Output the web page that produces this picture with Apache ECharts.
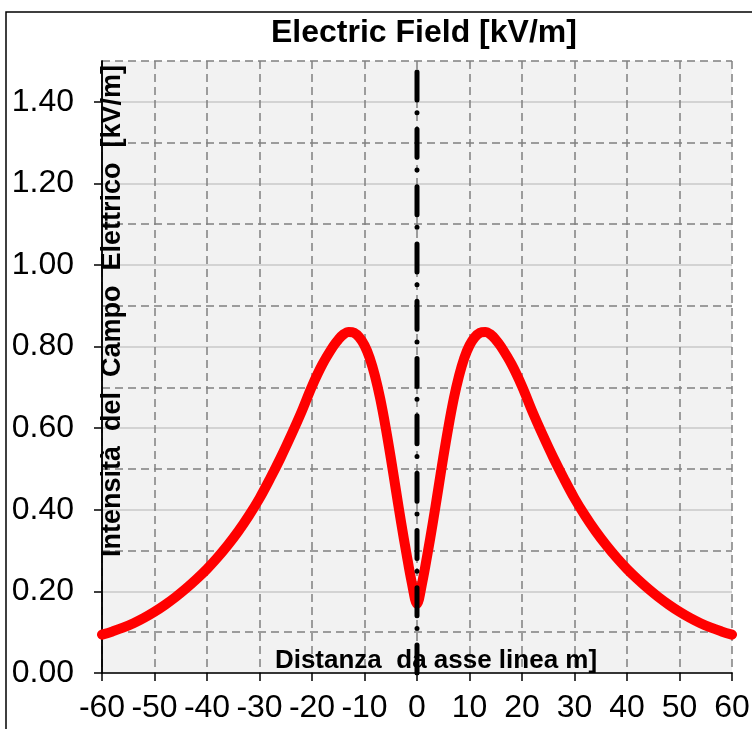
<!DOCTYPE html>
<html>
<head>
<meta charset="utf-8">
<script src="https://cdn.jsdelivr.net/npm/echarts@6/dist/echarts.min.js"></script>
<style>
html,body{margin:0;padding:0;background:#fff;}
#c{width:752px;height:729px;}
</style>
</head>
<body>
<div id="c"></div>
<script>
// ---- data ----
const distances = [-60,-58,-56,-54,-52,-50,-48,-46,-44,-42,-40,-38,-36,-34,-32,-30,-28,-26,-24,-22,-20,-18,-16,-15,-14,-13,-12,-11,-10,-9,-8,-7,-6,-5,-4,-3,-2,-1,0,1,2,3,4,5,6,7,8,9,10,11,12,13,14,15,16,18,20,22,24,26,28,30,32,34,36,38,40,42,44,46,48,50,52,54,56,58,60];
const fieldValues = [0.094,0.102,0.111,0.122,0.135,0.150,0.167,0.186,0.207,0.230,0.255,0.283,0.314,0.348,0.386,0.428,0.476,0.527,0.582,0.640,0.703,0.757,0.800,0.817,0.830,0.836,0.834,0.823,0.803,0.772,0.728,0.672,0.604,0.528,0.447,0.367,0.292,0.222,0.170,0.222,0.292,0.367,0.447,0.528,0.604,0.672,0.728,0.772,0.803,0.823,0.834,0.836,0.830,0.817,0.800,0.757,0.703,0.640,0.582,0.527,0.476,0.428,0.386,0.348,0.314,0.283,0.255,0.230,0.207,0.186,0.167,0.150,0.135,0.122,0.111,0.102,0.094];
const axisLinePoints = [[0,1.5],[0,0]];
const yLabelValues = [0,0.2,0.4,0.6,0.8,1.0,1.2,1.4];
const titleText = 'Electric Field [kV/m]';
const yName = 'Intensità  del  Campo  Elettrico  [kV/m]';
const xName = 'Distanza  da asse linea m]';

const FONT = "'Liberation Sans', Arial, Helvetica, sans-serif";
const seriesData = distances.map((d,i)=>[d, fieldValues[i]]);

const chart = echarts.init(document.getElementById('c'), null, {renderer:'canvas'});
chart.setOption({
  animation:false,
  backgroundColor:'#ffffff',
  title:{
    text:titleText, left:271, top:17, padding:0,
    textStyle:{fontFamily:FONT,fontSize:32,fontWeight:'bold',color:'#000'}
  },
  graphic:[{
    type:'rect', silent:true, z:-10,
    shape:{x:6,y:12,width:800,height:800},
    style:{fill:'none',stroke:'#000',lineWidth:1.5}
  }],
  grid:{left:102,right:20,top:61,bottom:56,containLabel:false,outerBoundsMode:'none',
        show:true,backgroundColor:'#f2f2f2',borderWidth:0},
  xAxis:{
    type:'value', min:-60, max:60, interval:10,
    name:xName, nameLocation:'middle', nameGap:-12, nameMoveOverlap:false,
    nameTextStyle:{fontFamily:FONT,fontSize:26,fontWeight:'bold',color:'#000',verticalAlign:'middle',align:'center',padding:[0,0,0,38]},
    axisLine:{show:true,onZero:false,lineStyle:{color:'#000',width:1.5}},
    axisTick:{show:true,inside:false,length:8,lineStyle:{color:'#000',width:1.5}},
    axisLabel:{fontFamily:FONT,fontSize:32,color:'#000',margin:19},
    splitLine:{show:true,lineStyle:{color:'#808080',width:1.5,type:[8,5]}}
  },
  yAxis:[{
    type:'value', min:0, max:1.5, interval:0.1,
    name:yName, nameLocation:'middle', nameGap:-11, nameRotate:90, nameMoveOverlap:false,
    nameTextStyle:{fontFamily:FONT,fontSize:27,fontWeight:'bold',color:'#000',verticalAlign:'middle',align:'center',padding:[0,0,0,112]},
    axisLine:{show:true,onZero:false,lineStyle:{color:'#000',width:1.5}},
    axisTick:{show:false},
    axisLabel:{fontFamily:FONT,fontSize:32,color:'#000',margin:28,
      formatter:function(v){const k=Math.round(v*10); return (k%2===0 && k<=14)? v.toFixed(2):'';}},
    splitLine:{show:true,lineStyle:{color:['rgba(0,0,0,0)','#808080'],width:1.5,type:[8,5]}}
  },{
    type:'value', min:0, max:1.5, interval:0.2, position:'left',
    axisLine:{show:true,onZero:false,lineStyle:{color:'#000',width:1.5}},
    axisTick:{show:true,length:8,lineStyle:{color:'#000',width:1.5},customValues:yLabelValues},
    axisLabel:{show:false},
    splitLine:{show:true,lineStyle:{color:['#c8c8c8','#c8c8c8','#c8c8c8','#c8c8c8','#c8c8c8','#c8c8c8','#c8c8c8','#c8c8c8','rgba(0,0,0,0)'],width:1.5,type:'solid'}}
  }],
  series:[{
    type:'line', data:seriesData, smooth:0.35, symbol:'none', z:3,
    lineStyle:{color:'#ff0000',width:10,cap:'round',join:'round'}
  },{
    type:'line', data:axisLinePoints, symbol:'none', z:4, silent:true,
    lineStyle:{color:'#000',width:5,type:[28,12.7,0.01,16.6],dashOffset:46.3,cap:'round'}
  }]
});
</script>
</body>
</html>
